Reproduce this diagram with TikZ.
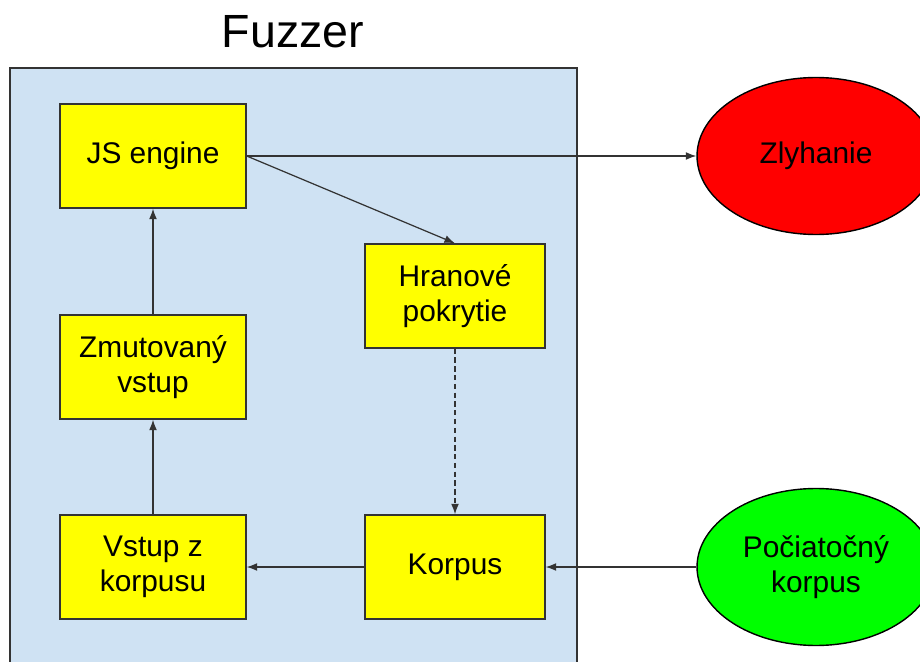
\documentclass[tikz,border=0pt]{standalone}
\usepackage{fontspec}
\setmainfont{Liberation Sans}
\usetikzlibrary{shapes.geometric, arrows.meta, positioning}
\definecolor{fuzzblue}{RGB}{207,226,243}
\definecolor{boxyellow}{RGB}{255,255,0}
\definecolor{crashred}{RGB}{255,0,0}
\definecolor{seedgreen}{RGB}{0,255,0}
\definecolor{linegray}{RGB}{51,51,51}
\tikzset{
  block/.style={rectangle, minimum width=3.72cm, minimum height=2.08cm,
    align=center, draw=linegray, fill=boxyellow, line width=0.8pt,
    font=\fontsize{17}{20}\selectfont},
  outcome/.style={ellipse, minimum width=4.76cm, minimum height=3.14cm,
    inner sep=0pt, align=center, draw=black, line width=0.8pt,
    font=\fontsize{17}{20}\selectfont},
  arrow/.style={-{Latex[length=6pt, width=4.5pt]}, line width=0.7pt, color=linegray},
}

\begin{document}
\begin{tikzpicture}[x=0.02cm, y=-0.02cm]
  \useasboundingbox (0,0) rectangle (920,662);
  \clip (0,0) rectangle (920,662);
  \fill[white] (0,0) rectangle (920,662);
  % fuzzer frame
  \draw[fill=fuzzblue, draw=linegray, line width=0.8pt] (10,68) rectangle (577,680);
  \node[font=\fontsize{26.5}{30}\selectfont] (title) at (293,32) {Fuzzer};

  \node[block] (js) at (153,156) {JS engine};
  \node[block] (mutated) at (153,367) {Zmutovaný\\vstup};
  \node[block] (input) at (153,567) {Vstup z\\korpusu};
  \node[block, minimum width=3.6cm] (cover) at (455,296) {Hranové\\pokrytie};
  \node[block, minimum width=3.6cm] (korpus) at (455,567) {Korpus};

  \node[outcome, fill=crashred] (crash) at (816,156) {Zlyhanie};
  \node[outcome, fill=seedgreen] (seed) at (816,567) {Počiatočný\\korpus};

  \draw[arrow] (js.east) -- (crash.west);
  \draw[arrow] (js.east) -- (cover.north);
  \draw[arrow, dash pattern=on 3pt off 2pt] (cover) -- (korpus);
  \draw[arrow] (seed) -- (korpus);
  \draw[arrow] (korpus) -- (input);
  \draw[arrow] (input) -- (mutated);
  \draw[arrow] (mutated) -- (js);
\end{tikzpicture}
\end{document}
